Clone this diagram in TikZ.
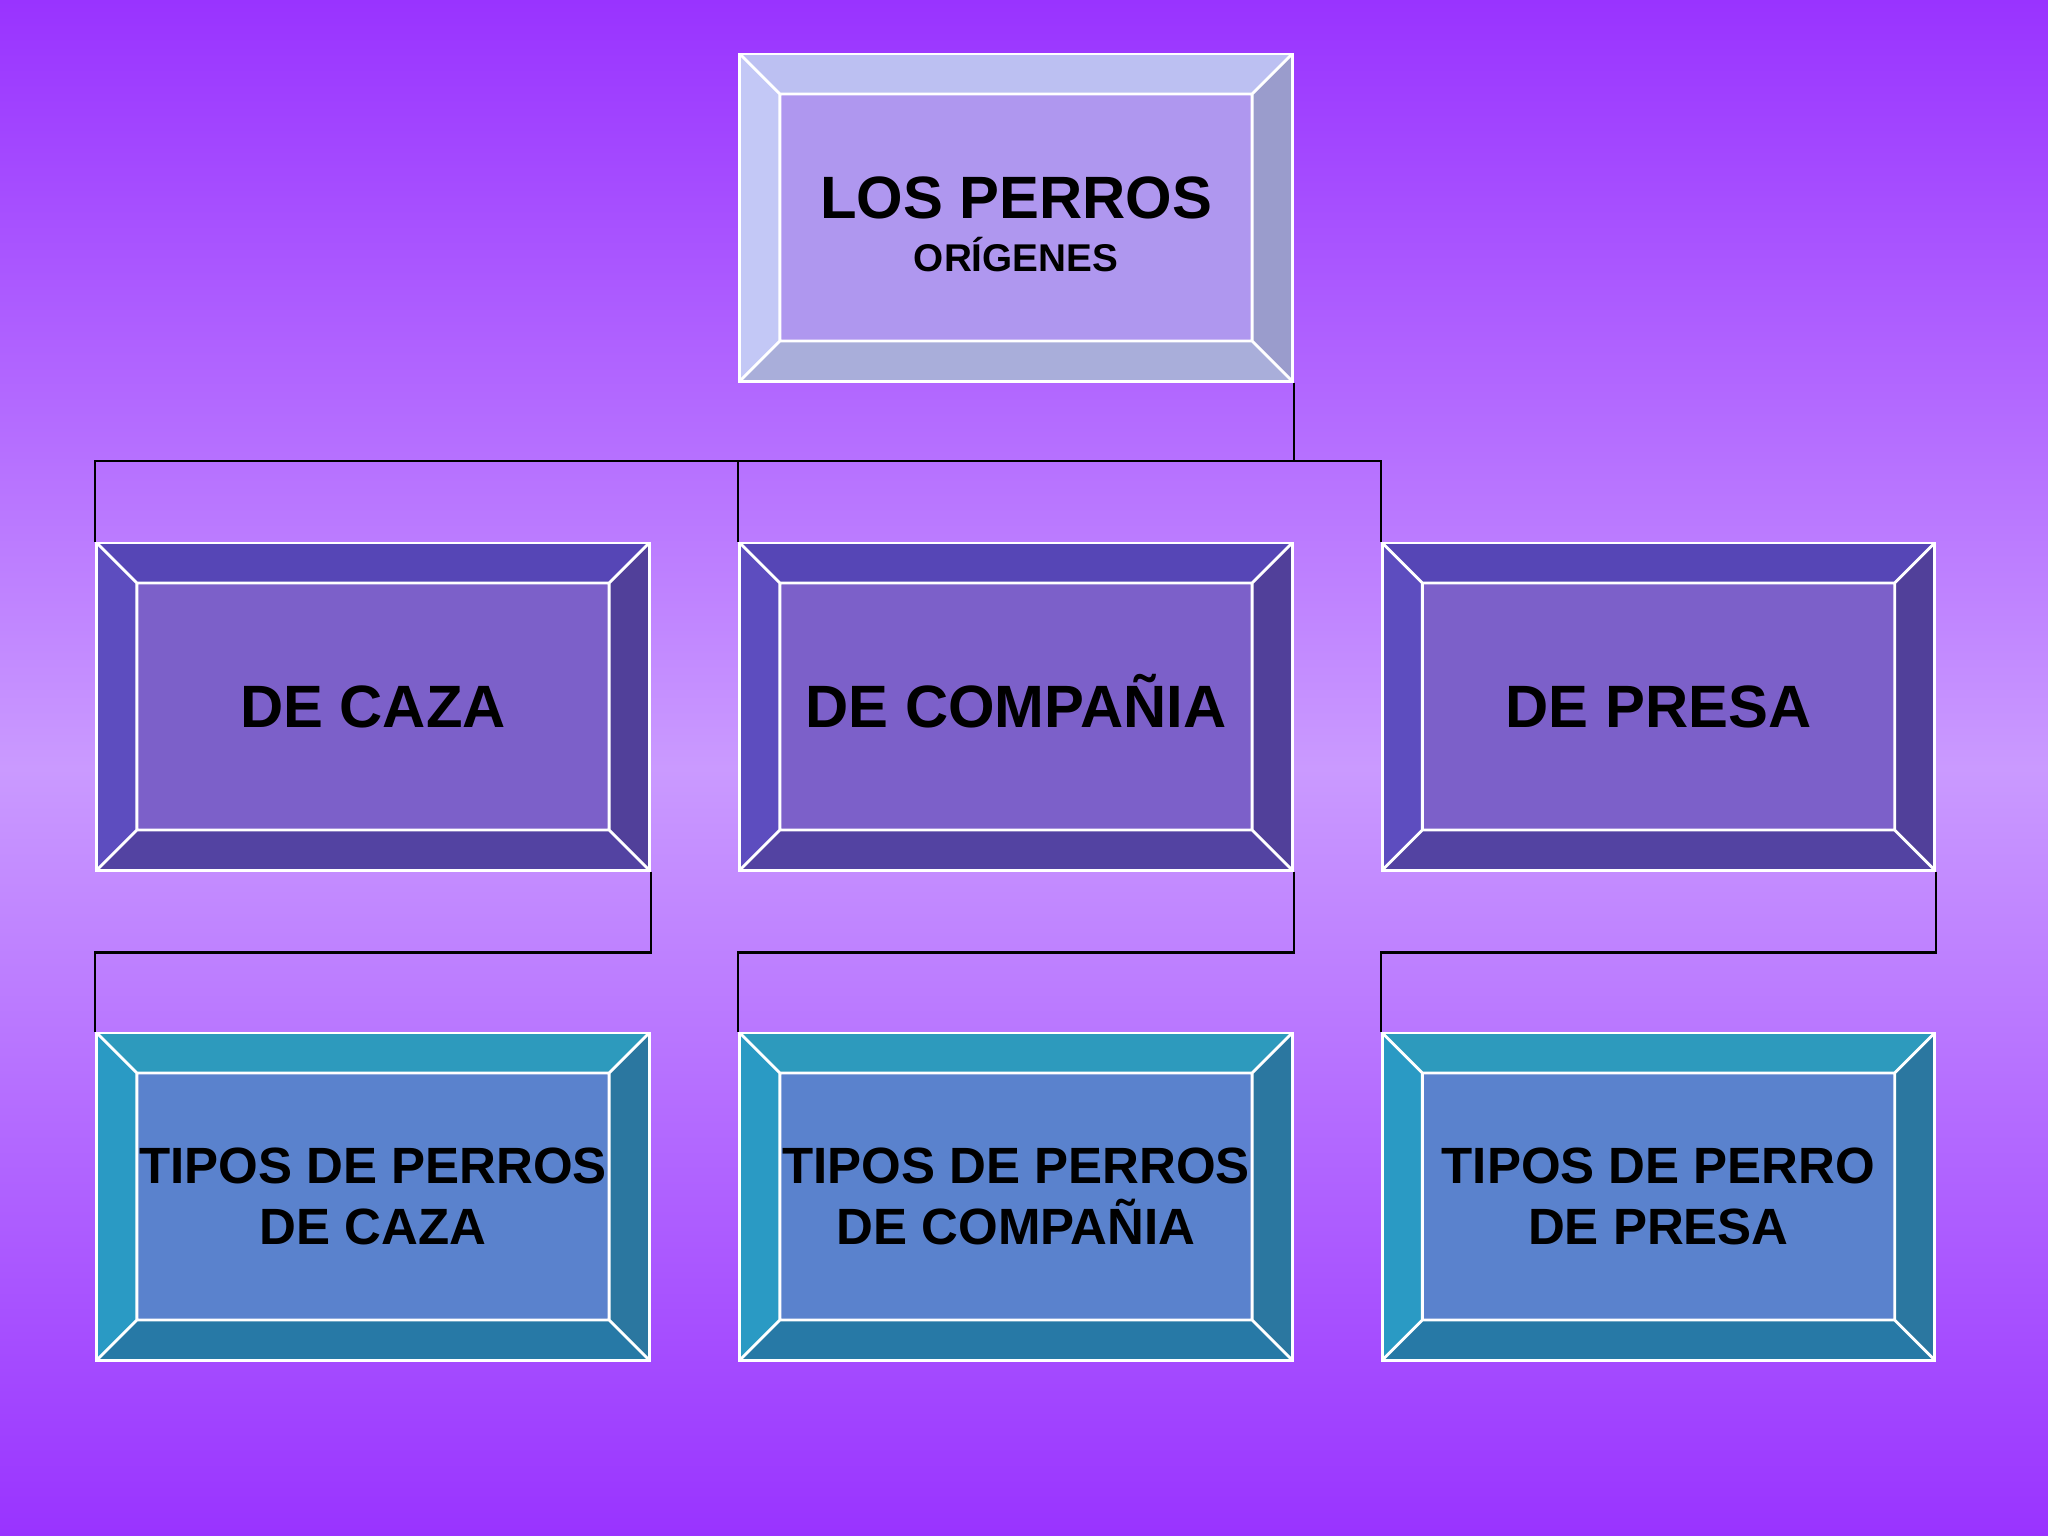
\documentclass[tikz,border=0pt]{standalone}
\usepackage{fontspec}
\setmainfont{Liberation Sans}
\usepackage{tikz}
\usetikzlibrary{calc}

\definecolor{bgtop}{HTML}{9933FF}
\definecolor{bgmid}{HTML}{CA9AFF}
% top box
\definecolor{tpT}{HTML}{BCC0F2}
\definecolor{tpL}{HTML}{C3C8F6}
\definecolor{tpR}{HTML}{9A9CCC}
\definecolor{tpB}{HTML}{A9AEDA}
\definecolor{tpF}{HTML}{AF97EF}
% middle row
\definecolor{mdT}{HTML}{5646B6}
\definecolor{mdL}{HTML}{5D4DBF}
\definecolor{mdR}{HTML}{51409A}
\definecolor{mdB}{HTML}{5343A2}
\definecolor{mdF}{HTML}{7C60C9}
% bottom row
\definecolor{btT}{HTML}{2D9ABD}
\definecolor{btL}{HTML}{2A9AC4}
\definecolor{btR}{HTML}{2B77A0}
\definecolor{btB}{HTML}{2779A6}
\definecolor{btF}{HTML}{5A82CD}

\tikzset{
  bevelbox/.style n args={5}{draw=white, line width=0.8pt, fill=#5,
    minimum width=5.52cm, minimum height=3.27cm, inner sep=0pt, align=center,
    path picture={
      \coordinate (nw) at (path picture bounding box.north west);
      \coordinate (ne) at (path picture bounding box.north east);
      \coordinate (sw) at (path picture bounding box.south west);
      \coordinate (se) at (path picture bounding box.south east);
      \coordinate (inw) at ([shift={(.4cm,-.4cm)}]nw);
      \coordinate (ine) at ([shift={(-.4cm,-.4cm)}]ne);
      \coordinate (isw) at ([shift={(.4cm,.4cm)}]sw);
      \coordinate (ise) at ([shift={(-.4cm,.4cm)}]se);
      \fill[#1] (nw) -- (ne) -- (ine) -- (inw) -- cycle;
      \fill[#2] (nw) -- (inw) -- (isw) -- (sw) -- cycle;
      \fill[#3] (ne) -- (ine) -- (ise) -- (se) -- cycle;
      \fill[#4] (sw) -- (isw) -- (ise) -- (se) -- cycle;
      \draw[white, line width=0.8pt] (inw) rectangle (ise)
        (nw) -- (inw) (ne) -- (ine) (sw) -- (isw) (se) -- (ise);
    }},
  bigtext/.style={font=\bfseries\fontsize{17}{20}\selectfont},
  midtext/.style={bigtext, text height=12.2pt, text depth=0pt},
  smalltext/.style={font=\bfseries\fontsize{14.5}{17.4}\selectfont},
  conn/.style={black, line width=0.6pt}
}

\begin{document}
\begin{tikzpicture}[x=0.01cm, y=-0.01cm]
\shade[top color=bgtop, bottom color=bgtop, middle color=bgmid] (0,0) rectangle (2048,1536);
\useasboundingbox (0,0) rectangle (2048,1536);

\node (top) at (1016,217.5) [bevelbox={tpT}{tpL}{tpR}{tpB}{tpF}, bigtext]
  {\rule{0pt}{15.6pt}LOS PERROS\\[-5pt]{\fontsize{11}{13}\selectfont ORÍGENES}};

\node (caza) at (373,706.5) [bevelbox={mdT}{mdL}{mdR}{mdB}{mdF}, midtext] {DE CAZA};
\node (compania) at (1016,706.5) [bevelbox={mdT}{mdL}{mdR}{mdB}{mdF}, midtext] {DE COMPAÑIA};
\node (presa) at (1658.5,706.5) [bevelbox={mdT}{mdL}{mdR}{mdB}{mdF}, midtext] {DE PRESA};

\node (tcaza) at (373,1196.5) [bevelbox={btT}{btL}{btR}{btB}{btF}, smalltext] {TIPOS DE PERROS\\DE CAZA};
\node (tcompania) at (1016,1196.5) [bevelbox={btT}{btL}{btR}{btB}{btF}, smalltext] {TIPOS DE PERROS\\DE COMPAÑIA};
\node (tpresa) at (1658.5,1196.5) [bevelbox={btT}{btL}{btR}{btB}{btF}, smalltext] {TIPOS DE PERRO\\DE PRESA};

\coordinate (bus) at (0,461);
\draw[conn] (top.south east) |- (caza.north west |- bus) -- (caza.north west);
\draw[conn] (top.south east |- bus) -| (presa.north west);
\draw[conn] (compania.north west |- bus) -- (compania.north west);

\draw[conn] (caza.south east) -- ++(0,81) -| (tcaza.north west);
\draw[conn] (compania.south east) -- ++(0,81) -| (tcompania.north west);
\draw[conn] (presa.south east) -- ++(0,81) -| (tpresa.north west);
\end{tikzpicture}
\end{document}
